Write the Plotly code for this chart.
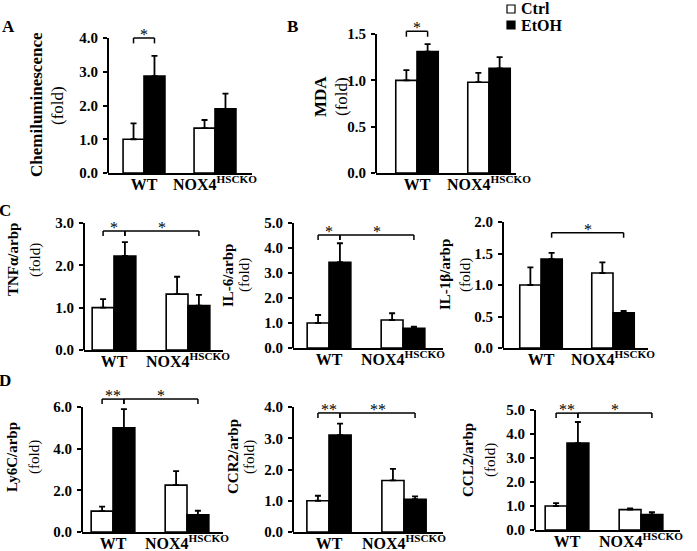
import plotly.graph_objects as go

# ---------------- data ----------------
groups = ["WT", "NOX4<sup>HSCKO</sup>"]
series_names = ["Ctrl", "EtOH"]

chemi_ctrl = [1.00, 1.33]
chemi_ctrl_err = [0.47, 0.24]
chemi_etoh = [2.87, 1.90]
chemi_etoh_err = [0.60, 0.45]

mda_ctrl = [1.00, 0.98]
mda_ctrl_err = [0.11, 0.10]
mda_etoh = [1.31, 1.13]
mda_etoh_err = [0.08, 0.12]

tnfa_ctrl = [1.00, 1.32]
tnfa_ctrl_err = [0.20, 0.41]
tnfa_etoh = [2.22, 1.05]
tnfa_etoh_err = [0.33, 0.25]

il6_ctrl = [1.00, 1.12]
il6_ctrl_err = [0.32, 0.27]
il6_etoh = [3.43, 0.79]
il6_etoh_err = [0.76, 0.06]

il1b_ctrl = [1.00, 1.19]
il1b_ctrl_err = [0.28, 0.17]
il1b_etoh = [1.41, 0.56]
il1b_etoh_err = [0.10, 0.03]

ly6c_ctrl = [1.00, 2.25]
ly6c_ctrl_err = [0.22, 0.67]
ly6c_etoh = [5.00, 0.82]
ly6c_etoh_err = [0.90, 0.20]

ccr2_ctrl = [1.00, 1.65]
ccr2_ctrl_err = [0.16, 0.37]
ccr2_etoh = [3.10, 1.05]
ccr2_etoh_err = [0.37, 0.09]

ccl2_ctrl = [1.00, 0.85]
ccl2_ctrl_err = [0.12, 0.05]
ccl2_etoh = [3.62, 0.64]
ccl2_etoh_err = [0.88, 0.10]

y_titles = ["Chemiluminescence", "MDA", "TNFα/arbp", "IL-6/arbp",
            "IL-1β/arbp", "Ly6C/arbp", "CCR2/arbp", "CCL2/arbp"]
panel_letters = ["A", "B", "C", "D"]

panel_data = [
    (chemi_ctrl, chemi_ctrl_err, chemi_etoh, chemi_etoh_err),
    (mda_ctrl, mda_ctrl_err, mda_etoh, mda_etoh_err),
    (tnfa_ctrl, tnfa_ctrl_err, tnfa_etoh, tnfa_etoh_err),
    (il6_ctrl, il6_ctrl_err, il6_etoh, il6_etoh_err),
    (il1b_ctrl, il1b_ctrl_err, il1b_etoh, il1b_etoh_err),
    (ly6c_ctrl, ly6c_ctrl_err, ly6c_etoh, ly6c_etoh_err),
    (ccr2_ctrl, ccr2_ctrl_err, ccr2_etoh, ccr2_etoh_err),
    (ccl2_ctrl, ccl2_ctrl_err, ccl2_etoh, ccl2_etoh_err),
]

# significance: (group_a, series_a, group_b, series_b, label)
significance = [
    [(0, 0, 0, 1, "*")],
    [(0, 0, 0, 1, "*")],
    [(0, 0, 0, 1, "*"), (0, 1, 1, 1, "*")],
    [(0, 0, 0, 1, "*"), (0, 1, 1, 1, "*")],
    [(0, 1, 1, 1, "*")],
    [(0, 0, 0, 1, "**"), (0, 1, 1, 1, "*")],
    [(0, 0, 0, 1, "**"), (0, 1, 1, 1, "**")],
    [(0, 0, 0, 1, "**"), (0, 1, 1, 1, "*")],
]
bracket_levels = [4.0, 1.53, 2.81, 4.52, 1.83, 6.38, 3.81, 4.87]
y_top_ticks = [4.0, 1.5, 3.0, 5.0, 2.0, 6.0, 4.0, 5.0]
y_dticks = [1.0, 0.5, 1.0, 1.0, 0.5, 2.0, 1.0, 1.0]

# ---------------- layout geometry (pixels) ----------------
W, H = 697, 551
# x_start, x_end, WT center, NOX center, y of 0, y of top tick
geom = [
    (108, 252, 144, 215, 173, 38),
    (376, 516, 417, 489, 173, 34),
    (84, 223, 114, 188, 350, 223),
    (293, 443, 329, 403, 348, 223),
    (503, 648, 541, 613, 348, 222),
    (82, 223, 113, 187, 532, 407),
    (293, 443, 329, 404, 532, 407),
    (535, 680, 567, 641, 530, 410),
]
# y-title positions: (x line1, x line2, y center, font size)
title_pos = [
    (36, 57, 105, 17),
    (320, 341, 97, 17),
    (13, 35, 260, 15),
    (228, 244, 275, 15),
    (445, 465, 275, 15),
    (12, 34, 457, 15),
    (233, 249, 457, 15),
    (468, 490, 460, 15),
]
letter_pos = [(8, 26), (292, 26), (5, 210), (5, 380)]

SERIF = "Liberation Serif, Times New Roman, serif"
BARGAP = 0.41
TOP_FACTOR = 1.2

fig = go.Figure()
layout = dict(
    template="none",
    width=W, height=H, margin=dict(l=0, r=0, t=0, b=0, pad=0),
    paper_bgcolor="white", plot_bgcolor="rgba(0,0,0,0)",
    barmode="group", bargap=BARGAP, bargroupgap=0,
    showlegend=False, font=dict(family=SERIF, color="black"),
)
shapes = []
annotations = []

for i, (ctrl, ctrl_err, etoh, etoh_err) in enumerate(panel_data):
    n = i + 1
    xa = "x" if n == 1 else f"x{n}"
    ya = "y" if n == 1 else f"y{n}"
    xs, xe, cwt, cnox, p0, pT = geom[i]
    T = y_top_ticks[i]
    unit = cnox - cwt
    r0 = (xs - cwt) / unit
    r1 = 1 + (xe - cnox) / unit
    k = (p0 - pT) / T
    ptop = p0 - TOP_FACTOR * T * k

    fig.add_trace(go.Bar(
        x=[0, 1], y=ctrl, name=series_names[0], xaxis=xa, yaxis=ya,
        marker=dict(color="white", line=dict(color="black", width=1.6)),
        error_y=dict(type="data", symmetric=False, array=ctrl_err,
                     arrayminus=[0, 0], color="black", thickness=1.8, width=3),
        offsetgroup="ctrl",
    ))
    fig.add_trace(go.Bar(
        x=[0, 1], y=etoh, name=series_names[1], xaxis=xa, yaxis=ya,
        marker=dict(color="black", line=dict(color="black", width=1.6)),
        error_y=dict(type="data", symmetric=False, array=etoh_err,
                     arrayminus=[0, 0], color="black", thickness=1.8, width=3),
        offsetgroup="etoh",
    ))

    nt = int(round(T / y_dticks[i])) + 1
    layout["xaxis" if n == 1 else f"xaxis{n}"] = dict(
        domain=[xs / W, xe / W], anchor=ya, range=[r0, r1],
        tickmode="array", tickvals=[0, 1], ticktext=groups,
        showline=True, linecolor="black", linewidth=2, ticks="",
        ticklabelstandoff=-4,
        showgrid=False, zeroline=False, fixedrange=True,
        tickfont=dict(family=SERIF, size=16, color="black", weight="bold"),
    )
    layout["yaxis" if n == 1 else f"yaxis{n}"] = dict(
        domain=[1 - p0 / H, 1 - ptop / H], anchor=xa,
        range=[0, TOP_FACTOR * T],
        tickmode="array",
        tickvals=[j * y_dticks[i] for j in range(nt)],
        ticktext=[f"{j * y_dticks[i]:.1f}" for j in range(nt)],
        showline=False, ticks="outside", ticklen=4, tickwidth=1.5, tickcolor="black",
        ticklabelstandoff=2,
        showgrid=False, zeroline=False, fixedrange=True,
        tickfont=dict(family=SERIF, size=15, color="black", weight="bold"),
    )
    # y axis line from 0 to top tick
    shapes.append(dict(type="line", xref=f"{xa} domain", yref=ya,
                       x0=0, x1=0, y0=0, y1=T,
                       line=dict(color="black", width=2)))

    # significance brackets
    half = (1 - BARGAP) / 4
    lvl = bracket_levels[i]
    leg = 0.04 * T
    for (ga, sa, gb, sb, lab) in significance[i]:
        xA = ga + (half if sa == 1 else -half)
        xB = gb + (half if sb == 1 else -half)
        for (x0, y0, x1, y1) in [(xA, lvl - leg, xA, lvl), (xA, lvl, xB, lvl),
                                 (xB, lvl - leg, xB, lvl)]:
            shapes.append(dict(type="line", xref=xa, yref=ya,
                               x0=x0, x1=x1, y0=y0, y1=y1,
                               line=dict(color="black", width=1.5)))
        annotations.append(dict(xref=xa, yref=ya, x=(xA + xB) / 2, y=lvl,
                                text=lab, showarrow=False, yanchor="bottom",
                                yshift=-7, font=dict(family=SERIF, size=16, color="black")))

    # y titles
    tx1, tx2, ty, fs = title_pos[i]
    annotations.append(dict(xref="paper", yref="paper", x=tx1 / W, y=1 - ty / H,
                            text=f"<b>{y_titles[i]}</b>", textangle=-90,
                            showarrow=False, xanchor="center", yanchor="middle",
                            font=dict(family=SERIF, size=fs, color="black")))
    annotations.append(dict(xref="paper", yref="paper", x=tx2 / W, y=1 - ty / H,
                            text="(fold)", textangle=-90,
                            showarrow=False, xanchor="center", yanchor="middle",
                            font=dict(family=SERIF, size=fs, color="black")))

# panel letters
for (lx, ly), letter in zip(letter_pos, panel_letters):
    annotations.append(dict(xref="paper", yref="paper", x=lx / W, y=1 - ly / H,
                            text=f"<b>{letter}</b>", showarrow=False,
                            xanchor="center", yanchor="middle",
                            font=dict(family=SERIF, size=17, color="black")))

# legend (custom)
for j, (name, col) in enumerate(zip(series_names, ["white", "black"])):
    cy = 9 + 16 * j
    shapes.append(dict(type="rect", xref="paper", yref="paper",
                       x0=507 / W, x1=515 / W, y0=1 - (cy + 4) / H, y1=1 - (cy - 4) / H,
                       fillcolor=col, line=dict(color="black", width=1.2)))
    annotations.append(dict(xref="paper", yref="paper", x=519 / W, y=1 - cy / H,
                            text=f"<b>{name}</b>", showarrow=False,
                            xanchor="left", yanchor="middle",
                            font=dict(family=SERIF, size=16, color="black")))

layout["shapes"] = shapes
layout["annotations"] = annotations
fig.update_layout(**layout)
fig.write_html("out.html",
               config={"displayModeBar": False},
               post_script="document.body.style.margin='0px';document.body.style.overflow='hidden';")
